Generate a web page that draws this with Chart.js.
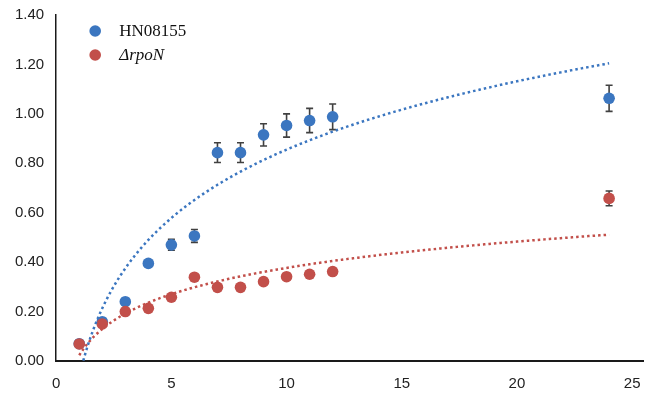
<!DOCTYPE html>
<html>
<head>
<meta charset="utf-8">
<script src="https://cdn.jsdelivr.net/npm/chart.js@4.4.1/dist/chart.umd.min.js"></script>
<style>
  html, body { margin: 0; padding: 0; background: #ffffff; }
  #wrap { width: 649px; height: 396px; }
</style>
</head>
<body>
<div id="wrap"><canvas id="chart" width="649" height="396"></canvas></div>
<script>
// Sampling times
const times = [1, 2, 3, 4, 5, 6, 7, 8, 9, 10, 11, 12, 24];

// Wild type strain
const wildLabel = 'HN08155';
const wildValues = [0.07, 0.159, 0.24, 0.395, 0.47, 0.506, 0.843, 0.843, 0.915, 0.953, 0.973, 0.988, 1.063];
const wildErrors = [0.01, 0.01, 0.01, 0.012, 0.022, 0.026, 0.04, 0.04, 0.045, 0.047, 0.049, 0.052, 0.053];

// Mutant strain
const mutantLabel = '\u0394rpoN';
const mutantValues = [0.069, 0.15, 0.2, 0.213, 0.258, 0.339, 0.298, 0.298, 0.321, 0.341, 0.351, 0.362, 0.658];
const mutantErrors = [0.008, 0.008, 0.008, 0.008, 0.008, 0.01, 0.008, 0.008, 0.008, 0.008, 0.01, 0.012, 0.03];

// Axis ticks
const xTicks = [0, 5, 10, 15, 20, 25];
const yTicks = [0, 0.2, 0.4, 0.6, 0.8, 1.0, 1.2, 1.4];

const BLUE = '#3b76c0';
const RED = '#c24f4a';

// Least-squares fit of y = a*ln(x) + b (logarithmic trendline)
function logFit(xs, ys) {
  const L = xs.map(Math.log);
  const n = xs.length;
  const mL = L.reduce((s, v) => s + v, 0) / n;
  const mY = ys.reduce((s, v) => s + v, 0) / n;
  let sxy = 0, sxx = 0;
  for (let i = 0; i < n; i++) {
    sxy += (L[i] - mL) * (ys[i] - mY);
    sxx += (L[i] - mL) * (L[i] - mL);
  }
  const a = sxy / sxx;
  return { a, b: mY - a * mL };
}
function trendPoints(xs, ys) {
  const f = logFit(xs, ys);
  const lo = Math.min(...xs), hi = Math.max(...xs);
  const pts = [];
  const steps = 230;
  for (let i = 0; i <= steps; i++) {
    const x = lo + (hi - lo) * i / steps;
    pts.push({ x, y: f.a * Math.log(x) + f.b });
  }
  return pts;
}

const toPoints = (xs, ys) => xs.map((x, i) => ({ x, y: ys[i] }));

// Vertical error bars with caps, drawn beneath the markers
const errorBars = {
  id: 'errorBars',
  beforeDatasetsDraw(chart) {
    const { ctx, scales: { x, y } } = chart;
    const sets = [[wildValues, wildErrors], [mutantValues, mutantErrors]];
    ctx.save();
    ctx.strokeStyle = '#404040';
    ctx.lineWidth = 1.6;
    sets.forEach(([vals, errs]) => {
      times.forEach((t, i) => {
        const px = x.getPixelForValue(t);
        const top = y.getPixelForValue(vals[i] + errs[i]);
        const bot = y.getPixelForValue(vals[i] - errs[i]);
        ctx.beginPath();
        ctx.moveTo(px, top); ctx.lineTo(px, bot);
        ctx.moveTo(px - 3.5, top); ctx.lineTo(px + 3.5, top);
        ctx.moveTo(px - 3.5, bot); ctx.lineTo(px + 3.5, bot);
        ctx.stroke();
      });
    });
    ctx.restore();
  }
};

// Legend in the upper-left corner of the plot
const cornerLegend = {
  id: 'cornerLegend',
  afterDraw(chart) {
    const { ctx, chartArea } = chart;
    const items = [
      { color: BLUE, text: wildLabel, font: '17px "Liberation Serif", serif' },
      { color: RED, text: mutantLabel, font: 'italic 17px "Liberation Serif", serif' }
    ];
    ctx.save();
    items.forEach((it, i) => {
      const cx = chartArea.left + 39;
      const cy = chartArea.top + 16 + i * 24;
      ctx.fillStyle = it.color;
      ctx.beginPath();
      ctx.arc(cx, cy, 5.8, 0, Math.PI * 2);
      ctx.fill();
      ctx.fillStyle = '#111111';
      ctx.font = it.font;
      ctx.textBaseline = 'middle';
      ctx.textAlign = 'left';
      ctx.fillText(it.text, cx + 24, cy + 1);
    });
    ctx.restore();
  }
};

const dotted = { borderWidth: 2.5, borderDash: [2.5, 3], borderCapStyle: 'butt', pointRadius: 0, fill: false, showLine: true, tension: 0 };

new Chart(document.getElementById('chart'), {
  type: 'scatter',
  data: {
    datasets: [
      Object.assign({ label: 'trend ' + wildLabel, data: trendPoints(times, wildValues), borderColor: BLUE, order: 0 }, dotted),
      Object.assign({ label: 'trend ' + mutantLabel, data: trendPoints(times, mutantValues), borderColor: RED, order: 1 }, dotted),
      { label: mutantLabel, data: toPoints(times, mutantValues), backgroundColor: RED, borderWidth: 0, pointRadius: 5.8, order: 2 },
      { label: wildLabel, data: toPoints(times, wildValues), backgroundColor: BLUE, borderWidth: 0, pointRadius: 5.8, order: 3 }
    ]
  },
  options: {
    responsive: false,
    devicePixelRatio: 1,
    animation: false,
    layout: { padding: { left: 15, right: 0, top: 15, bottom: 3 } },
    plugins: { legend: { display: false }, tooltip: { enabled: false } },
    scales: {
      x: {
        type: 'linear',
        min: 0,
        max: 25.48,
        afterBuildTicks(scale) { scale.ticks = xTicks.map(v => ({ value: v })); },
        grid: { display: false, drawTicks: true, tickLength: 14 },
        border: { display: true, color: '#1a1a1a', width: 2 },
        ticks: { padding: 0, color: '#222222', font: { family: '"Liberation Sans", sans-serif', size: 15 }, maxRotation: 0 }
      },
      y: {
        type: 'linear',
        min: 0,
        max: 1.4,
        afterBuildTicks(scale) { scale.ticks = yTicks.map(v => ({ value: v })); },
        grid: { display: false, drawTicks: true, tickLength: 12 },
        border: { display: true, color: '#1a1a1a', width: 1.5 },
        ticks: { padding: 0, color: '#222222', font: { family: '"Liberation Sans", sans-serif', size: 15 }, callback: v => Number(v).toFixed(2) }
      }
    }
  },
  plugins: [errorBars, cornerLegend]
});
</script>
</body>
</html>
